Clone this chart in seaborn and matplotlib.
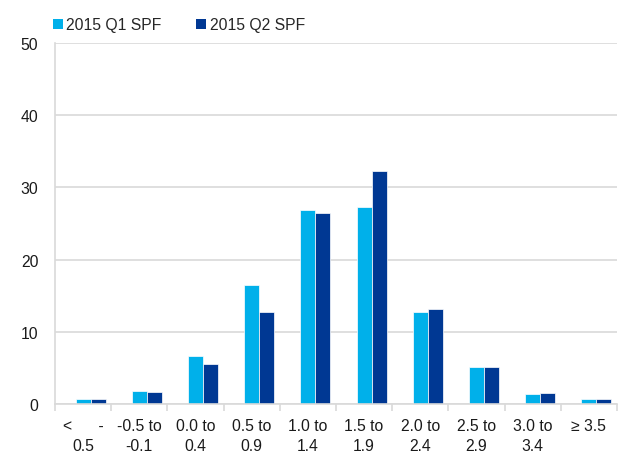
import matplotlib
matplotlib.use("Agg")
import matplotlib.pyplot as plt
from matplotlib.patches import Patch
import numpy as np
import pandas as pd
import seaborn as sns

categories = ["<      -\n0.5", "-0.5 to\n-0.1", "0.0 to\n0.4", "0.5 to\n0.9", "1.0 to\n1.4",
              "1.5 to\n1.9", "2.0 to\n2.4", "2.5 to\n2.9", "3.0 to\n3.4", "≥ 3.5"]
q1_spf = [0.7, 1.8, 6.6, 16.5, 26.9, 27.3, 12.7, 5.1, 1.4, 0.7]
q2_spf = [0.7, 1.6, 5.5, 12.7, 26.4, 32.3, 13.1, 5.1, 1.5, 0.7]
series_names = ["2015 Q1 SPF", "2015 Q2 SPF"]
y_ticks = [0, 10, 20, 30, 40, 50]

colors = {"": "white", "2015 Q1 SPF": "#00B0EA", "2015 Q2 SPF": "#003893"}

# an empty leading series keeps the same slot layout as the original workbook
df = pd.DataFrame({
    "bucket": categories * 3,
    "series": [""] * len(categories) + [series_names[0]] * len(categories) + [series_names[1]] * len(categories),
    "share": [0.0] * len(categories) + q1_spf + q2_spf,
})

sns.set_theme(style="white")
plt.rcParams["font.family"] = ["Liberation Sans", "DejaVu Sans"]

fig = plt.figure(figsize=(6.3, 4.64), dpi=100)
ax = fig.add_axes([55 / 630, 1 - 405 / 464, (617 - 55) / 630, (405 - 44) / 464])

sns.barplot(data=df, x="bucket", y="share", hue="series", hue_order=["", *series_names],
            order=categories, palette=colors, width=0.8, dodge=True, legend=False,
            saturation=1, edgecolor="white", linewidth=0.5, ax=ax)

ax.set_ylim(0, 50)
ax.set_xlim(-0.5, len(categories) - 0.5)
ax.set_yticks(y_ticks)
ax.set_yticklabels([str(t) for t in y_ticks], fontsize=11.3, color="#1a1a1a")
ax.yaxis.grid(True, color="#D9D9D9", linewidth=1.2)
ax.set_axisbelow(True)
ax.set_xlabel("")
ax.set_ylabel("")

ax.set_xticks(range(len(categories)))
ax.set_xticklabels(categories, fontsize=11.3, color="#1a1a1a", linespacing=1.4, va="top")
ax.set_xticks(np.arange(-0.5, len(categories), 1.0), minor=True)
ax.tick_params(axis="x", which="major", length=0, pad=10)
ax.tick_params(axis="x", which="minor", length=5, color="#D9D9D9", width=1.2, bottom=True)
ax.tick_params(axis="y", length=0, pad=12)

for side in ["top", "right"]:
    ax.spines[side].set_visible(False)
ax.spines["left"].set_color("#D9D9D9")
ax.spines["left"].set_linewidth(1.2)
ax.spines["bottom"].set_color("#D9D9D9")
ax.spines["bottom"].set_linewidth(1.2)

handles = [Patch(facecolor=colors[s], edgecolor="none") for s in series_names]
fig.legend(handles, series_names, loc="upper left", bbox_to_anchor=(39 / 630, 1 - 4 / 464),
           ncol=2, frameon=False, fontsize=11.3, handlelength=0.6, handleheight=0.6,
           handletextpad=0.25, columnspacing=2.2)

fig.savefig("out.png", dpi=100)
